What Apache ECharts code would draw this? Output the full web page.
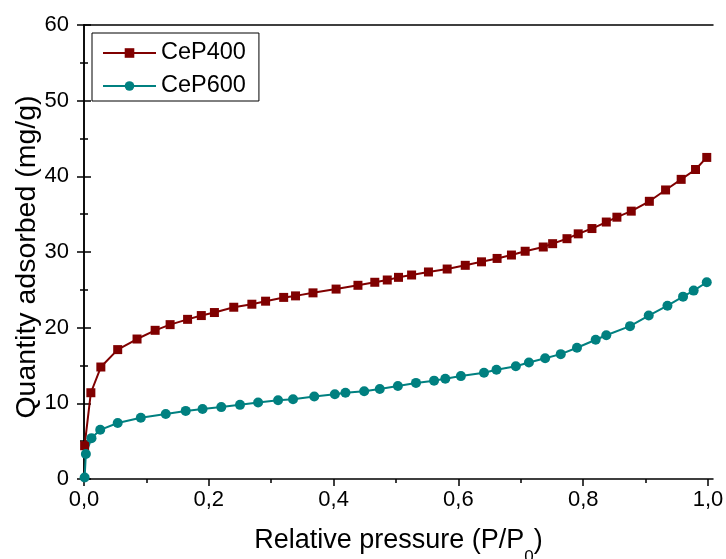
<!DOCTYPE html>
<html><head><meta charset="utf-8">
<script src="https://cdn.jsdelivr.net/npm/echarts@6/dist/echarts.min.js"></script>
<style>html,body{margin:0;padding:0;background:#fff}#c{width:726px;height:559px}</style>
</head><body><div id="c"></div>
<script>
const seriesNames = ['CeP400', 'CeP600'];
const cep400X = [0.001,0.011,0.027,0.054,0.085,0.114,0.138,0.166,0.188,0.209,0.240,0.269,0.291,0.320,0.339,0.367,0.404,0.439,0.466,0.486,0.504,0.525,0.552,0.582,0.611,0.637,0.662,0.685,0.707,0.736,0.751,0.774,0.792,0.814,0.837,0.854,0.877,0.906,0.932,0.957,0.980,0.998];
const cep400Y = [4.4,11.4,14.8,17.1,18.5,19.65,20.4,21.1,21.6,22.0,22.7,23.1,23.5,24.0,24.2,24.6,25.1,25.6,26.0,26.3,26.65,26.96,27.36,27.75,28.24,28.7,29.15,29.6,30.1,30.66,31.1,31.76,32.4,33.1,33.96,34.6,35.4,36.7,38.2,39.6,40.9,42.5];
const cep600X = [0.001,0.003,0.012,0.026,0.054,0.091,0.131,0.163,0.190,0.220,0.250,0.279,0.311,0.335,0.369,0.402,0.419,0.449,0.474,0.503,0.532,0.561,0.579,0.604,0.641,0.661,0.692,0.713,0.739,0.764,0.790,0.820,0.837,0.875,0.905,0.935,0.960,0.977,0.998];
const cep600Y = [0.2,3.3,5.4,6.5,7.4,8.1,8.6,9.0,9.25,9.5,9.8,10.1,10.4,10.55,10.9,11.2,11.4,11.6,11.9,12.3,12.7,13.0,13.25,13.6,14.05,14.45,14.9,15.4,15.95,16.5,17.35,18.4,19.0,20.2,21.6,22.9,24.1,24.9,26.0];
const xMajorTicks = [0, 0.2, 0.4, 0.6, 0.8, 1.0];
const xMinorTicks = [0.1, 0.3, 0.5, 0.7, 0.9];
const xTitle = '{a|Relative pressure (P/P}{s|0}{a|)}';
const yTitle = 'Quantity adsorbed (mg/g)';

const FONT = "'Liberation Sans', Arial, sans-serif";
const zip = (xs, ys) => xs.map((x, i) => [x, ys[i]]);
const axisLine = {show: true, lineStyle: {color: '#000', width: 1.5}};
const tickStyle = {color: '#000', width: 1.5};

const chart = echarts.init(document.getElementById('c'), null, {renderer: 'canvas'});
chart.setOption({
  animation: false,
  backgroundColor: '#fff',
  grid: {left: 84, right: 13, top: 25, bottom: 80, containLabel: false, outerBoundsMode: 'none'},
  legend: {
    left: 92, top: 33, orient: 'vertical',
    borderColor: '#000', borderWidth: 1, padding: [8, 13, 3, 10],
    itemWidth: 53, itemHeight: 12, itemGap: 9,
    textStyle: {fontSize: 23.5, color: '#000', fontFamily: FONT},
    data: seriesNames
  },
  xAxis: [
    {
      type: 'value', min: 0, max: 1.008, position: 'bottom',
      axisLine: axisLine,
      axisTick: {show: true, inside: false, length: 7, customValues: xMajorTicks, lineStyle: tickStyle},
      axisLabel: {customValues: xMajorTicks, fontSize: 22, color: '#000', fontFamily: FONT, margin: 10,
        formatter: v => v.toFixed(1).replace('.', ',')},
      splitLine: {show: false},
      name: xTitle,
      nameLocation: 'middle', nameGap: 48, nameMoveOverlap: false,
      nameTextStyle: {
        color: '#000', fontFamily: FONT, fontSize: 27,
        rich: {
          a: {fontSize: 27, fontFamily: FONT, color: '#000', verticalAlign: 'top'},
          s: {fontSize: 17, fontFamily: FONT, color: '#000', verticalAlign: 'top', padding: [22, 0, 0, 0]}
        }
      }
    },
    {
      type: 'value', min: 0, max: 1.008, position: 'bottom',
      axisLine: {show: false},
      axisTick: {show: true, inside: false, length: 4, customValues: xMinorTicks, lineStyle: tickStyle},
      axisLabel: {show: false},
      splitLine: {show: false}
    },
    {
      type: 'value', min: 0, max: 1.008, position: 'top',
      axisLine: axisLine, axisTick: {show: false}, axisLabel: {show: false}, splitLine: {show: false}
    }
  ],
  yAxis: [
    {
      type: 'value', min: 0, max: 60, interval: 10, position: 'left',
      axisLine: axisLine,
      axisTick: {show: true, inside: false, length: 7, lineStyle: tickStyle},
      minorTick: {show: true, splitNumber: 2, length: 4, lineStyle: tickStyle},
      axisLabel: {fontSize: 22, color: '#000', fontFamily: FONT, margin: 15},
      splitLine: {show: false}, minorSplitLine: {show: false},
      name: yTitle, nameLocation: 'middle', nameGap: 42, nameMoveOverlap: false,
      nameTextStyle: {color: '#000', fontFamily: FONT, fontSize: 28.5, padding: [0, 10, 0, 0]}
    },
    {
      type: 'value', min: 0, max: 60, interval: 10, position: 'right',
      axisLine: axisLine,
      axisTick: {show: true, inside: false, length: 7, lineStyle: tickStyle},
      minorTick: {show: true, splitNumber: 2, length: 4, lineStyle: tickStyle},
      axisLabel: {show: false},
      splitLine: {show: false}, minorSplitLine: {show: false}
    }
  ],
  series: [
    {
      name: seriesNames[0], type: 'line', xAxisIndex: 0, yAxisIndex: 0,
      data: zip(cep400X, cep400Y),
      symbol: 'rect', symbolSize: 9, showAllSymbol: true,
      itemStyle: {color: '#800000'}, lineStyle: {color: '#800000', width: 2}
    },
    {
      name: seriesNames[1], type: 'line', xAxisIndex: 0, yAxisIndex: 0,
      data: zip(cep600X, cep600Y),
      symbol: 'circle', symbolSize: 10, showAllSymbol: true,
      itemStyle: {color: '#008080'}, lineStyle: {color: '#008080', width: 2}
    }
  ]
});
</script></body></html>
